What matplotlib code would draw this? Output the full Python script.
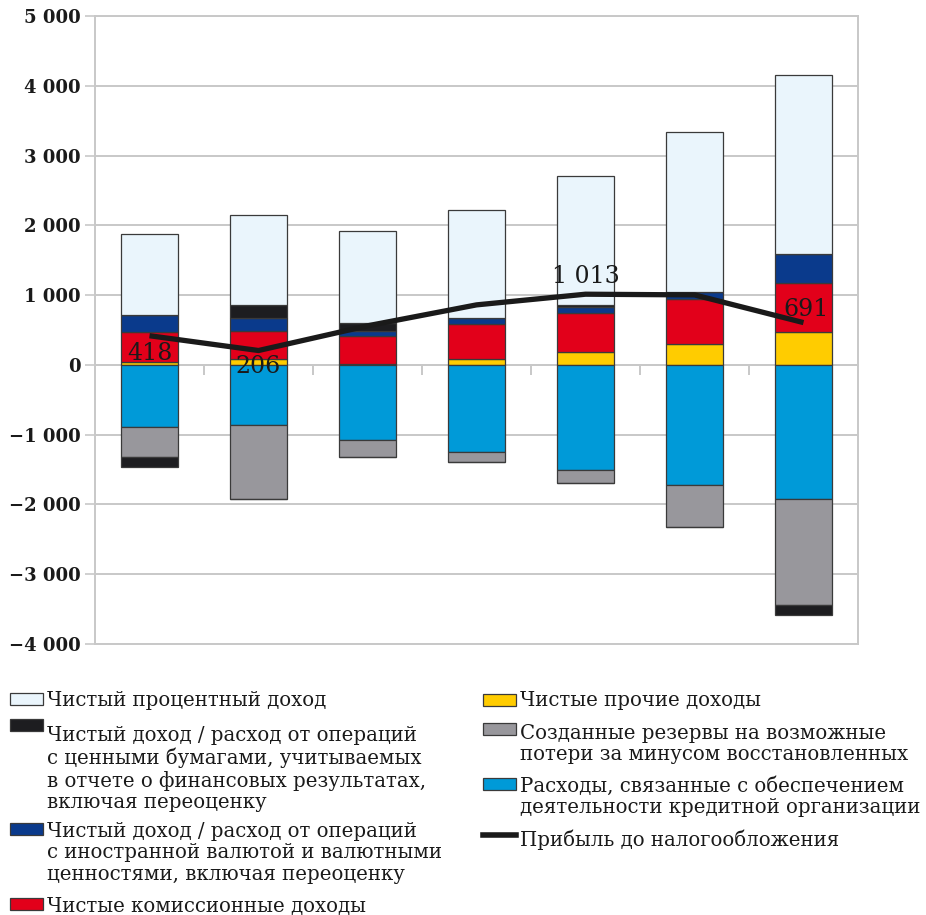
import numpy as np
import matplotlib.pyplot as plt
from matplotlib.patches import Rectangle
from matplotlib.lines import Line2D
from matplotlib.ticker import FuncFormatter

plt.rcParams['font.family'] = ['DejaVu Serif']

# data
periods = np.arange(7)
interest = [1160, 1290, 1318, 1550, 1850, 2290, 2565]
securities = [-140, 186, 110, 0, 30, 0, -145]
fx = [245, 186, 72, 75, 80, 108, 415]
commission = [430, 390, 405, 500, 560, 645, 715]
other = [40, 90, 8, 90, 185, 295, 465]
reserves = [-430, -1065, -245, -150, -190, -610, -1515]
expenses = [-895, -860, -1080, -1243, -1505, -1720, -1925]
profit = [418, 206, 560, 860, 1013, 1003, 606]
profit_labels = {0: "418", 1: "206", 4: "1 013", 6: "691"}

names = ["Чистый процентный доход",
         "Чистый доход / расход от операций\nс ценными бумагами, учитываемых\nв отчете о финансовых результатах,\nвключая переоценку",
         "Чистый доход / расход от операций\nс иностранной валютой и валютными\nценностями, включая переоценку",
         "Чистые комиссионные доходы",
         "Чистые прочие доходы",
         "Созданные резервы на возможные\nпотери за минусом восстановленных",
         "Расходы, связанные с обеспечением\nдеятельности кредитной организации",
         "Прибыль до налогообложения"]

c_int = '#eaf5fc'
c_sec = '#1d1d20'
c_fx = '#0a3a8c'
c_com = '#e2001a'
c_oth = '#ffcc00'
c_res = '#98979c'
c_exp = '#009ad8'
grid_c = '#c8c8c8'
txt_c = '#1a1a1a'

W, H = 926, 915
fig = plt.figure(figsize=(W / 100, H / 100), dpi=100)
ax = fig.add_axes([95 / W, 1 - 644 / H, 763 / W, 628 / H])

w = 0.52
ekw = dict(edgecolor='#3a3a3a', linewidth=0.9, width=w, zorder=3)

pos = np.zeros(7)
neg = np.zeros(7)
sec = np.array(securities, dtype=float)
for vals, col in [(other, c_oth), (commission, c_com), (fx, c_fx),
                  (np.clip(sec, 0, None), c_sec), (interest, c_int)]:
    v = np.array(vals, dtype=float)
    ax.bar(periods, v, bottom=pos, color=col, **ekw)
    pos += v
for vals, col in [(expenses, c_exp), (reserves, c_res), (np.clip(sec, None, 0), c_sec)]:
    v = np.array(vals, dtype=float)
    ax.bar(periods, v, bottom=neg, color=col, **ekw)
    neg += v

ax.plot(periods, profit, color=txt_c, lw=3.8, zorder=5, solid_capstyle='butt')

# value labels
offs = {0: (0, -90, 'top'), 1: (0, -70, 'top'), 4: (0, 95, 'bottom'), 6: (0.02, 30, 'bottom')}
for i, txt in profit_labels.items():
    dx, dy, va = offs[i]
    ax.text(periods[i] + dx, profit[i] + dy, txt, ha='center', va=va,
            fontsize=17, color=txt_c, zorder=6)

ax.set_xlim(-0.5, 6.5)
ax.set_ylim(-4000, 5000)
ax.set_yticks(np.arange(-4000, 5001, 1000))
ax.yaxis.set_major_formatter(FuncFormatter(
    lambda v, p: ('\u2212' if v < 0 else '') + f"{abs(int(v)):,}".replace(',', ' ')))
for lab in ax.get_yticklabels():
    lab.set_fontweight('bold')
ax.tick_params(axis='y', length=7, width=1.2, labelsize=13, pad=3,
               color=grid_c, labelcolor=txt_c)
ax.yaxis.grid(True, color=grid_c, lw=1.4, zorder=0)
ax.set_axisbelow(True)

ax.spines['bottom'].set_position(('data', 0))
ax.set_xticks(np.arange(0.5, 6.0, 1.0))
ax.set_xticklabels([])
ax.tick_params(axis='x', direction='out', length=7, color=grid_c, width=1.4)
for s in ['left', 'right', 'top', 'bottom']:
    ax.spines[s].set_color(grid_c)
    ax.spines[s].set_linewidth(1.4)
ax.axhline(-4000, color=grid_c, lw=1.4, clip_on=False, zorder=0)

# legend, drawn by hand in two columns (pixel positions from top-left)
fsz = 14.2
def legend_item(x, ybox, ytxt, label, color=None, line=False):
    if line:
        fig.add_artist(Line2D([x / W, (x + 33) / W], [1 - (ybox + 6) / H] * 2,
                              color=txt_c, lw=4, transform=fig.transFigure))
    else:
        fig.add_artist(Rectangle((x / W, 1 - (ybox + 12) / H), 33 / W, 12 / H,
                                 facecolor=color, edgecolor='#3a3a3a', lw=0.9,
                                 transform=fig.transFigure))
    fig.text((x + 37) / W, 1 - (ytxt - 9) / H, label, ha='left', va='top',
             fontsize=fsz, color=txt_c, linespacing=1.16)

legend_item(10, 693, 700, names[0], c_int)
legend_item(10, 719, 735, names[1], c_sec)
legend_item(10, 823, 831, names[2], c_fx)
legend_item(10, 898, 906, names[3], c_com)
legend_item(483, 694, 700, names[4], c_oth)
legend_item(483, 723, 733, names[5], c_res)
legend_item(483, 778, 785, names[6], c_exp)
legend_item(483, 829, 838, names[7], line=True)

fig.savefig('out.png', dpi=100)
